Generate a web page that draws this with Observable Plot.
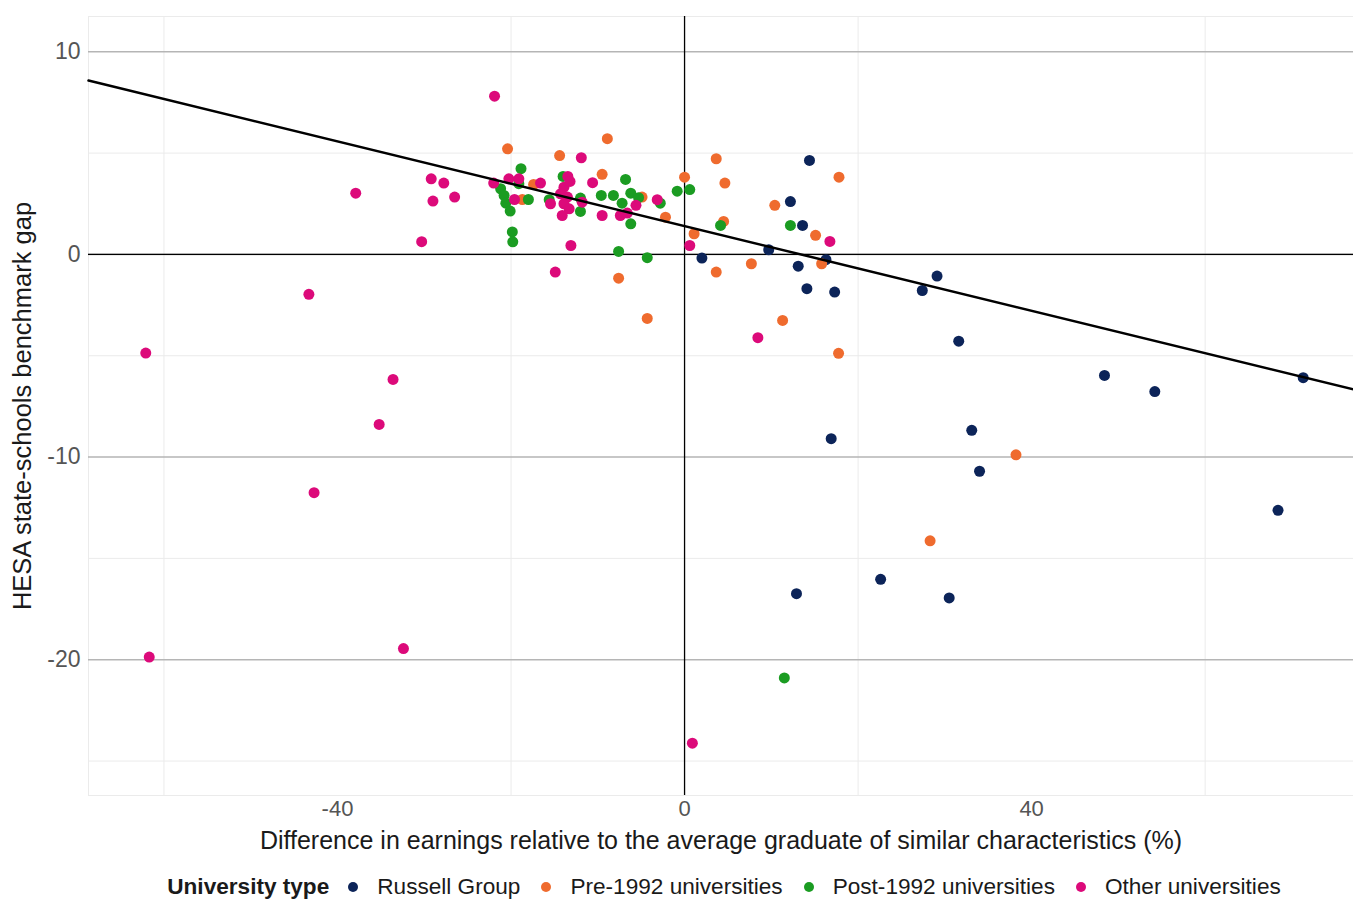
<!DOCTYPE html>
<html>
<head>
<meta charset="utf-8">
<script src="https://cdn.jsdelivr.net/npm/d3@7"></script>
<script src="https://cdn.jsdelivr.net/npm/@observablehq/plot@0.6"></script>
<style>
  html, body { margin: 0; padding: 0; background: #fff; }
  body { font-family: "Liberation Sans", Arial, sans-serif; width: 1353px; }
  #legend { display: flex; justify-content: center; align-items: center; height: 44px; margin-top: 10px; font-size: 22.6px; color: #1a1a1a; margin-left: 95px; }
  #legend .title { font-weight: bold; margin-right: 19px; }
  #legend .item { display: flex; align-items: center; margin-right: 21px; }
  #legend .item:last-child { margin-right: 0; }
  #legend .sw { width: 10px; height: 10px; border-radius: 50%; margin-right: 19px; }
</style>
</head>
<body>
<div id="chart"></div>
<div id="legend"></div>
<script>
// ---- Data ----
const categories = ["Russell Group", "Pre-1992 universities", "Post-1992 universities", "Other universities"];
const colors = ["#0c2459", "#ef6b2e", "#1b9c22", "#dc0a7a"];

const russellX = [14.4, 12.2, 13.6, 9.7, 2.0, 13.1, 16.3, 14.1, 17.3, 27.4, 29.1, 31.6, 48.4, 54.2, 71.3, 33.1, 16.9, 34.0, 68.4, 22.6, 12.9, 30.5];
const russellY = [4.64, 2.61, 1.43, 0.23, -0.18, -0.58, -0.26, -1.69, -1.86, -1.78, -1.07, -4.28, -5.97, -6.77, -6.08, -8.68, -9.09, -10.7, -12.63, -16.03, -16.74, -16.95];

const pre1992X = [-20.4, -8.9, -14.4, -9.5, -17.4, -18.7, -4.9, -2.2, 0.0, 1.1, 3.65, 4.65, 4.5, 10.4, 15.1, 17.8, 15.8, 7.7, 3.65, -7.6, -4.3, 11.3, 17.75, 38.2, 28.3];
const pre1992Y = [5.21, 5.71, 4.88, 3.95, 3.45, 2.71, 2.83, 1.84, 3.81, 1.02, 4.72, 3.52, 1.63, 2.42, 0.94, 3.81, -0.46, -0.46, -0.87, -1.17, -3.16, -3.26, -4.88, -9.89, -14.13];

const post1992X = [-18.85, -21.2, -20.8, -20.6, -20.1, -19.85, -19.8, -19.1, -18.0, -15.6, -14.0, -12.0, -12.0, -9.6, -8.2, -6.8, -6.2, -7.2, -5.3, -6.2, -2.8, -0.85, 0.6, -7.6, -4.3, 4.15, 12.2, 11.5];
const post1992Y = [4.23, 3.24, 2.91, 2.53, 2.14, 1.11, 0.62, 3.49, 2.71, 2.7, 3.85, 2.78, 2.12, 2.91, 2.91, 3.7, 3.02, 2.53, 2.8, 1.51, 2.53, 3.12, 3.2, 0.15, -0.16, 1.43, 1.43, -20.9];

const otherX = [-21.9, -37.9, -29.2, -27.75, -29.0, -26.5, -30.3, -43.3, -62.1, -33.6, -35.2, -42.7, -61.7, -32.4, 0.9, 8.45, 16.75, 0.6, -14.9, -13.1, -22.0, -20.25, -19.1, -19.6, -16.6, -15.45, -11.9, -13.45, -13.9, -14.3, -13.5, -11.8, -13.9, -13.3, -14.1, -10.6, -9.5, -7.4, -6.6, -5.6, -3.15, -13.2];
const otherY = [7.81, 3.02, 3.73, 3.52, 2.63, 2.83, 0.63, -1.97, -4.87, -6.17, -8.39, -11.76, -19.87, -19.45, -24.12, -4.11, 0.64, 0.44, -0.87, 0.44, 3.52, 3.73, 3.73, 2.71, 3.52, 2.5, 4.77, 3.85, 3.32, 2.99, 2.83, 2.58, 2.5, 2.25, 1.92, 3.54, 1.92, 1.92, 2.04, 2.42, 2.7, 3.6];

// fitted line
const fitIntercept = 1.40;
const fitSlope = -0.1045;

const xDomain = [-68.7, 77.1];
const yDomain = [-26.7, 11.74];
const xTicks = [-40, 0, 40];
const yTicks = [10, 0, -10, -20];
const xMinorGrid = [-60, -20, 20, 60];
const yMinorGrid = [5, -5, -15, -25];

const xTitle = "Difference in earnings relative to the average graduate of similar characteristics (%)";
const yTitle = "HESA state-schools benchmark gap";
const legendTitle = "University type";

// ---- Build table ----
const seriesX = [russellX, pre1992X, post1992X, otherX];
const seriesY = [russellY, pre1992Y, post1992Y, otherY];
const points = [];
categories.forEach((c, i) => {
  seriesX[i].forEach((x, j) => points.push({type: c, x, y: seriesY[i][j]}));
});
const fit = xDomain.map(x => ({x, y: fitIntercept + fitSlope * x}));

const chart = Plot.plot({
  width: 1353,
  height: 855,
  marginLeft: 88,
  marginRight: 0,
  marginTop: 16,
  marginBottom: 60,
  style: {fontFamily: "'Liberation Sans', Arial, sans-serif", background: "#fff", overflow: "visible"},
  x: {domain: xDomain},
  y: {domain: yDomain},
  color: {domain: categories, range: colors},
  marks: [
    Plot.frame({stroke: "#ebebeb"}),
    Plot.gridX(xMinorGrid, {stroke: "#ebebeb", strokeOpacity: 1}),
    Plot.gridY(yMinorGrid, {stroke: "#ebebeb", strokeOpacity: 1}),
    Plot.gridY(yTicks, {stroke: "#b5b5b5", strokeOpacity: 1, strokeWidth: 1.5}),
    Plot.ruleY([0], {stroke: "#000", strokeWidth: 1.3}),
    Plot.ruleX([0], {stroke: "#000", strokeWidth: 1.3}),
    Plot.axisX(xTicks, {tickSize: 0, tickPadding: 5, fontSize: 22, color: "#555", label: null, tickFormat: d => String(d)}),
    Plot.axisY(yTicks, {tickSize: 0, tickPadding: 8, fontSize: 23, color: "#555", label: null, tickFormat: d => String(d)}),
    Plot.dot(points, {x: "x", y: "y", fill: "type", r: 5.5}),
    Plot.line(fit, {x: "x", y: "y", stroke: "#000", strokeWidth: 2.5}),
    Plot.text([xTitle], {frameAnchor: "bottom", dy: 45, fontSize: 25, fill: "#1a1a1a", lineAnchor: "middle", textAnchor: "middle"}),
    Plot.text([yTitle], {frameAnchor: "left", rotate: -90, dx: -66, fontSize: 25.5, fill: "#1a1a1a", lineAnchor: "middle", textAnchor: "middle"})
  ]
});
document.getElementById("chart").appendChild(chart);

// ---- Legend ----
const legend = document.getElementById("legend");
const t = document.createElement("span");
t.className = "title";
t.textContent = legendTitle;
legend.appendChild(t);
categories.forEach((c, i) => {
  const it = document.createElement("span");
  it.className = "item";
  const sw = document.createElement("span");
  sw.className = "sw";
  sw.style.background = colors[i];
  const lb = document.createElement("span");
  lb.textContent = c;
  it.appendChild(sw);
  it.appendChild(lb);
  legend.appendChild(it);
});
</script>
</body>
</html>
